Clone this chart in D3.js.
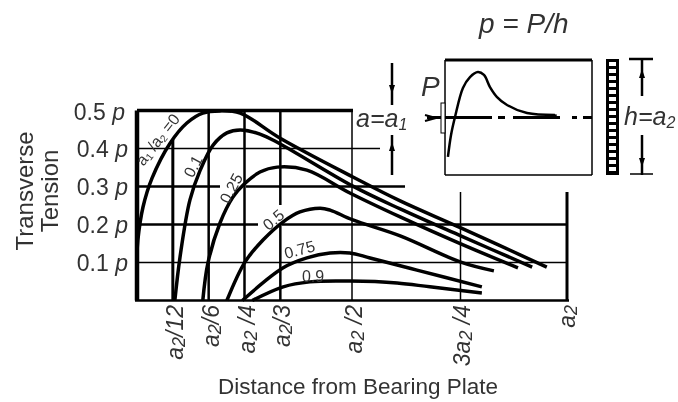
<!DOCTYPE html>
<html>
<head>
<meta charset="utf-8">
<script src="https://cdnjs.cloudflare.com/ajax/libs/d3/7.8.5/d3.min.js"></script>
<style>
  html, body { margin: 0; padding: 0; background: #fff; }
  svg { display: block; }
  text { font-family: "Liberation Sans", Arial, sans-serif; fill: #333; }
</style>
</head>
<body>
<div id="chart"></div>
<script>
// curves: [distance / a2, tension / p]
const curve0 = [[0, 0.12], [0.002, 0.159], [0.014, 0.246], [0.035, 0.322], [0.077, 0.414], [0.116, 0.467], [0.153, 0.493], [0.193, 0.499], [0.24, 0.493], [0.333, 0.427], [0.502, 0.325], [0.612, 0.262], [0.753, 0.191], [0.953, 0.088]];
const curve01 = [[0.088, 0], [0.1, 0.114], [0.123, 0.264], [0.147, 0.343], [0.177, 0.409], [0.209, 0.441], [0.24, 0.449], [0.286, 0.438], [0.333, 0.412], [0.502, 0.301], [0.612, 0.241], [0.753, 0.17], [0.919, 0.088]];
const curve025 = [[0.153, 0], [0.165, 0.099], [0.193, 0.204], [0.223, 0.272], [0.247, 0.304], [0.286, 0.338], [0.326, 0.351], [0.395, 0.343], [0.495, 0.283], [0.612, 0.22], [0.753, 0.149], [0.886, 0.086]];
const curve05 = [[0.209, 0], [0.251, 0.101], [0.293, 0.159], [0.34, 0.207], [0.379, 0.233], [0.426, 0.243], [0.449, 0.238], [0.502, 0.212], [0.612, 0.17], [0.753, 0.101], [0.83, 0.078]];
const curve075 = [[0.245, 0], [0.34, 0.086], [0.395, 0.112], [0.449, 0.125], [0.495, 0.125], [0.542, 0.112], [0.651, 0.08], [0.802, 0.036]];
const curve09 = [[0.268, 0], [0.34, 0.036], [0.402, 0.049], [0.495, 0.051], [0.605, 0.046], [0.681, 0.036], [0.802, 0.02]];
const curves = [curve0, curve01, curve025, curve05, curve075, curve09];

const curveLabels = ['0.1', '0.25', '0.5', '0.75', '0.9'];
const yTicks = [0.1, 0.2, 0.3, 0.4, 0.5];
const xTicks = [1 / 12, 1 / 6, 1 / 4, 1 / 3, 1 / 2, 3 / 4, 1];
const xTickLabels = [['a', '2', '/12'], ['a', '2', '/6'], ['a', '2', ' /4'], ['a', '2', '/3'], ['a', '2', ' /2'], ['3a', '2', ' /4'], ['a', '2', '']];

// inset stress curve: [distance across box, stress relative to the centre line]
const insetCurve = [[0.02, -0.343], [0.041, -0.152], [0.068, 0.004], [0.122, 0.257], [0.17, 0.352], [0.224, 0.396], [0.265, 0.37], [0.306, 0.265], [0.354, 0.178], [0.422, 0.109], [0.558, 0.039], [0.748, 0.022]];

const width = 678;
const height = 402;

const x = d3.scaleLinear().domain([0, 1]).range([137, 567]);
const y = d3.scaleLinear().domain([0, 0.5]).range([300.5, 110.5]);
const insetX = d3.scaleLinear().domain([0, 1]).range([445, 592]);
const insetY = d3.scaleLinear().domain([-0.5, 0.5]).range([175, 60]);

const svg = d3.select('#chart')
  .append('svg')
  .attr('width', width)
  .attr('height', height);

// the reference is a soft scan, so everything gets a slight blur
svg.append('filter')
  .attr('id', 'soft')
  .attr('x', 0)
  .attr('y', 0)
  .attr('width', 1)
  .attr('height', 1)
  .append('feGaussianBlur')
  .attr('stdDeviation', 0.4);

const root = svg.append('g').attr('filter', 'url(#soft)');

root.append('rect')
  .attr('width', width)
  .attr('height', height)
  .attr('fill', '#fff');

const segment = (x1, y1, x2, y2, w) => root.append('line')
  .attr('x1', x1)
  .attr('y1', y1)
  .attr('x2', x2)
  .attr('y2', y2)
  .attr('stroke', '#000')
  .attr('stroke-width', w);

const label = (px, py, size, rotate, anchor) => root.append('text')
  .attr('transform', `translate(${px},${py}) rotate(${rotate})`)
  .attr('text-anchor', anchor)
  .attr('font-size', size);

// grid, some lines stop short of the right edge
segment(x(0), y(0.5), x(0.5) + 1, y(0.5), 3.5);
segment(x(0), y(0.4), 380, y(0.4), 1.5);
segment(x(0), y(0.3), 220, y(0.3), 2.5);
segment(246, y(0.3), 405, y(0.3), 2.5);
segment(x(0), y(0.2), 258, y(0.2), 2.5);
segment(282, y(0.2), x(1), y(0.2), 2.5);
segment(x(0), y(0.1), x(1), y(0.1), 1.5);
segment(x(0) - 2, y(0), x(1) + 2, y(0), 2.5);

segment(x(0), y(0.5), x(0), y(0), 4.5);
segment(x(1 / 12), 140, x(1 / 12), y(0), 3);
segment(x(1 / 6), y(0.5), x(1 / 6), y(0), 2.5);
segment(x(1 / 4), y(0.5), x(1 / 4), y(0), 2.5);
segment(x(1 / 3), y(0.5), x(1 / 3), 205, 2.5);
segment(x(1 / 3), 225, x(1 / 3), y(0), 2.5);
segment(x(1 / 2), y(0.5), x(1 / 2), y(0), 1.5);
segment(x(3 / 4) + 1, 192, x(3 / 4) + 1, y(0), 1.5);
segment(x(1), 192, x(1), y(0), 3);

const line = d3.line()
  .x(d => x(d[0]))
  .y(d => y(d[1]))
  .curve(d3.curveCatmullRom);

root.selectAll('.curve')
  .data(curves)
  .enter()
  .append('path')
  .attr('class', 'curve')
  .attr('d', line)
  .attr('fill', 'none')
  .attr('stroke', '#000')
  .attr('stroke-width', 3.5);

// curve labels
const first = label(162, 143, 16, -52, 'middle');
first.append('tspan').text('a');
first.append('tspan').attr('font-size', 10).attr('dy', 2).text('1');
first.append('tspan').attr('dy', -2).text(' /a');
first.append('tspan').attr('font-size', 10).attr('dy', 2).text('2');
first.append('tspan').attr('dy', -2).text(' =0');

const labelPlaces = [[198, 169, -62], [236, 191, -62], [277, 224, -40], [301, 255, -15], [313, 282, 0]];
curveLabels.forEach((t, i) => {
  label(labelPlaces[i][0], labelPlaces[i][1], 16, labelPlaces[i][2], 'middle').text(t);
});

// y ticks
const yLabels = root.selectAll('.ytick')
  .data(yTicks)
  .enter()
  .append('text')
  .attr('class', 'ytick')
  .attr('x', d => (d === 0.5 ? 125 : 128))
  .attr('y', d => y(d) + (d === 0.5 ? 9.5 : 8))
  .attr('text-anchor', 'end')
  .attr('font-size', 23);
yLabels.append('tspan').text(d => `${d} `);
yLabels.append('tspan').attr('font-style', 'italic').text('p');

// x ticks
xTicks.forEach((d, i) => {
  const t = label(x(d) + (i === 6 ? 8 : 10), 305, 23, -90, 'end').attr('font-style', 'italic');
  t.append('tspan').text(xTickLabels[i][0]);
  t.append('tspan').attr('font-size', 18).attr('dy', 2).text(xTickLabels[i][1]);
  t.append('tspan').attr('dy', -2).text(xTickLabels[i][2]);
});

// axis titles
label(33, 191, 24, -90, 'middle').text('Transverse');
label(58, 191, 24, -90, 'middle').text('Tension');
label(358, 394, 22.5, 0, 'middle').text('Distance from Bearing Plate');

// inset box
segment(insetX(0), insetY(0.5), insetX(1), insetY(0.5), 3);
segment(insetX(0), insetY(0.5), insetX(0), insetY(-0.5), 1.5);
segment(insetX(1), insetY(0.5), insetX(1), insetY(-0.5), 1.5);
segment(insetX(0), insetY(-0.5), insetX(1), insetY(-0.5), 1.5);

segment(427, insetY(0), insetX(1), insetY(0), 3)
  .attr('stroke-dasharray', '65 6 7 8 47 12 5 6 9');

const insetLine = d3.line()
  .x(d => insetX(d[0]))
  .y(d => insetY(d[1]))
  .curve(d3.curveCatmullRom);

root.append('path')
  .attr('d', insetLine(insetCurve))
  .attr('fill', 'none')
  .attr('stroke', '#000')
  .attr('stroke-width', 2.5);

segment(insetX(0.7), insetY(0.01), insetX(0.76), insetY(0.01), 4);

// bearing plate and load arrow
root.append('rect')
  .attr('x', 441)
  .attr('y', 103)
  .attr('width', 4)
  .attr('height', 30)
  .attr('fill', '#fff')
  .attr('stroke', '#000');
root.append('path')
  .attr('d', d3.line()([[425, 115], [436, 118], [425, 121]]))
  .attr('fill', 'none')
  .attr('stroke', '#000')
  .attr('stroke-width', 2);

// reinforcement strip
root.append('rect')
  .attr('x', 606)
  .attr('y', 59)
  .attr('width', 13)
  .attr('height', 116)
  .attr('fill', '#000');
root.selectAll('.rung')
  .data(d3.range(16))
  .enter()
  .append('rect')
  .attr('class', 'rung')
  .attr('x', 609)
  .attr('y', d => 62 + d * 7)
  .attr('width', 7)
  .attr('height', 4)
  .attr('fill', '#fff');

// dimension marks
const arrowHead = (px, py, dir) => root.append('path')
  .attr('d', d3.line()([[px - 3, py - 5 * dir], [px + 3, py - 5 * dir], [px, py + 4 * dir]]))
  .attr('fill', '#000');

segment(392, 63, 392, 105, 2.5);
arrowHead(392, 90, 1);
segment(392, 135, 392, 175, 2.5);
arrowHead(392, 146, -1);
segment(629, 59, 653, 59, 2.5);
segment(642, 59, 642, 96, 2.5);
arrowHead(642, 73, -1);
segment(642, 135, 642, 175, 2.5);
arrowHead(642, 163, 1);
segment(630, 174, 653, 174, 1.5);

// inset text
label(479, 33, 28, 0, 'start').attr('font-style', 'italic').text('p = P/h');
label(421, 96, 28, 0, 'start').attr('font-style', 'italic').text('P');

const aLabel = label(356, 127, 25, 0, 'start').attr('font-style', 'italic');
aLabel.append('tspan').text('a=a');
aLabel.append('tspan').attr('font-size', 16).attr('dy', 3).text('1');

const hLabel = label(624, 125, 25, 0, 'start').attr('font-style', 'italic');
hLabel.append('tspan').text('h=a');
hLabel.append('tspan').attr('font-size', 16).attr('dy', 3).text('2');
</script>
</body>
</html>
